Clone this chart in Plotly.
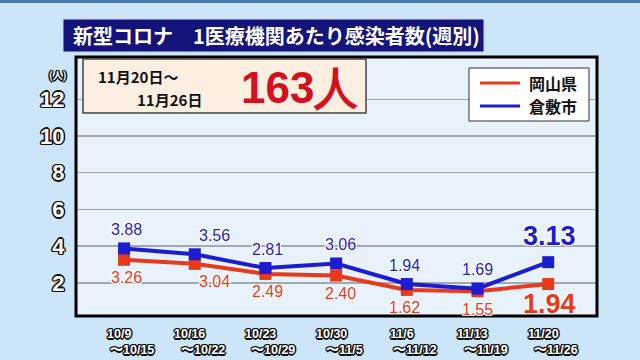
import plotly.graph_objects as go

# ---- data ----
weeks_start = ["10/9", "10/16", "10/23", "10/30", "11/6", "11/13", "11/20"]
weeks_end = ["〜10/15", "〜10/22", "〜10/29", "〜11/5", "〜11/12", "〜11/19", "〜11/26"]
okayama = [3.26, 3.04, 2.49, 2.40, 1.62, 1.55, 1.94]
kurashiki = [3.88, 3.56, 2.81, 3.06, 1.94, 1.69, 3.13]
y_ticks = [2, 4, 6, 8, 10, 12]
series_names = ["岡山県", "倉敷市"]
title_text = "新型コロナ　1医療機関あたり感染者数(週別)"
period_text = ["11月20日〜", "11月26日"]
headline_text = "163人"

# ---- style ----
W, H = 640, 360
L, R, T, B = 76, 597, 57, 316
RED = "#e8391b"
BLUE = "#1c1cd0"
FONT = "Liberation Sans"
CJK = "Noto Sans CJK JP"

def px(x):
    return (x - L) / (R - L)

def py(y):
    return (B - y) / (B - T)

white_halo = "1px 1px 0 #fff, -1px -1px 0 #fff, 1px -1px 0 #fff, -1px 1px 0 #fff, 0 1px 0 #fff, 0 -1px 0 #fff, 1px 0 0 #fff, -1px 0 0 #fff"
black_halo = "1px 1px 0 #111, -1px -1px 0 #111, 1px -1px 0 #111, -1px 1px 0 #111, 0 1.5px 0 #111, 0 -1.5px 0 #111, 1.5px 0 0 #111, -1.5px 0 0 #111"

xs = list(range(len(weeks_start)))

fig = go.Figure()
fig.add_trace(go.Scatter(x=xs, y=okayama, mode="lines+markers", name=series_names[0],
                         line=dict(color=RED, width=4),
                         marker=dict(symbol="square", size=12, color=RED),
                         showlegend=False, hoverinfo="skip"))
fig.add_trace(go.Scatter(x=xs, y=kurashiki, mode="lines+markers", name=series_names[1],
                         line=dict(color=BLUE, width=4),
                         marker=dict(symbol="square", size=12, color=BLUE),
                         showlegend=False, hoverinfo="skip"))

annotations = []
# value labels
label_xshift = [2, 20, 2, 4, -2, 0, 1]
for i in xs:
    last = i == len(xs) - 1
    annotations.append(dict(x=i, y=kurashiki[i], xref="x", yref="y",
                            xanchor="center", yanchor="middle",
                            text=f"{kurashiki[i]:.2f}", showarrow=False,
                            xshift=label_xshift[i], yshift=26 if last else 19,
                            font=dict(family=FONT, size=27 if last else 16, color=BLUE,
                                      weight="bold" if last else "normal", shadow=white_halo)))
    annotations.append(dict(x=i, y=okayama[i], xref="x", yref="y",
                            xanchor="center", yanchor="middle",
                            text=f"{okayama[i]:.2f}", showarrow=False,
                            xshift=label_xshift[i], yshift=-20 if last else -18,
                            font=dict(family=FONT, size=27 if last else 16, color=RED,
                                      weight="bold" if last else "normal", shadow=white_halo)))

# x category labels (two lines, drawn separately for tight spacing)
for i in xs:
    annotations.append(dict(x=i, y=0, xref="x", yref="paper", xanchor="center", yanchor="middle",
                            text=weeks_start[i], showarrow=False, xshift=-5, yshift=-18,
                            borderpad=0,
                            font=dict(family=FONT, size=12.5, color="#ffffff", weight="bold",
                                      shadow=black_halo)))
    annotations.append(dict(x=i, y=0, xref="x", yref="paper", xanchor="center", yanchor="middle",
                            text=weeks_end[i], showarrow=False, xshift=8, yshift=-34,
                            borderpad=0,
                            font=dict(family=FONT, size=12.5, color="#ffffff", weight="bold",
                                      shadow=black_halo)))

# unit label
annotations.append(dict(x=px(58), y=py(74), xref="paper", yref="paper", text="(人)",
                        xanchor="center", yanchor="middle",
                        showarrow=False, font=dict(family=CJK, size=10, color="#fff",
                                                   weight="bold", shadow=black_halo)))
# title
annotations.append(dict(x=px(276), y=py(36), xref="paper", yref="paper", text=title_text,
                        xanchor="center", yanchor="middle",
                        showarrow=False, font=dict(family=CJK, size=20, color="#ffffff",
                                                   weight="bold")))
# info box texts
annotations.append(dict(x=px(96), y=py(77), xref="paper", yref="paper", xanchor="left",
                        yanchor="middle", text=period_text[0], showarrow=False,
                        font=dict(family=CJK, size=15, color="#111", weight="bold")))
annotations.append(dict(x=px(204), y=py(99), xref="paper", yref="paper", xanchor="right",
                        yanchor="middle", text=period_text[1], showarrow=False,
                        font=dict(family=CJK, size=15, color="#111", weight="bold")))
annotations.append(dict(x=px(299), y=py(87), xref="paper", yref="paper",
                        xanchor="center", yanchor="middle",
                        text=headline_text, showarrow=False,
                        font=dict(family=FONT, size=44, color="#d3101c", weight="bold")))
# legend texts
annotations.append(dict(x=px(527), y=py(83), xref="paper", yref="paper", xanchor="left",
                        yanchor="middle", text=series_names[0], showarrow=False,
                        font=dict(family=CJK, size=16, color="#111", weight="bold")))
annotations.append(dict(x=px(527), y=py(106), xref="paper", yref="paper", xanchor="left",
                        yanchor="middle", text=series_names[1], showarrow=False,
                        font=dict(family=CJK, size=16, color="#111", weight="bold")))

shapes = [
    # top dark strip
    dict(type="rect", xref="paper", yref="paper", x0=px(0), x1=px(640), y0=py(0), y1=py(3),
         fillcolor="#4a78a8", line=dict(width=0), layer="below"),
    # title box
    dict(type="rect", xref="paper", yref="paper", x0=px(63), x1=px(484), y0=py(19), y1=py(52),
         fillcolor="#14147a", line=dict(color="#c8d8f0", width=1)),
    # plot frame
    dict(type="rect", xref="paper", yref="paper", x0=0, x1=1, y0=0, y1=1,
         line=dict(color="#000", width=3), layer="above"),
    # info box
    dict(type="rect", xref="paper", yref="paper", x0=px(83), x1=px(366), y0=py(59), y1=py(113),
         fillcolor="#fcefe2", line=dict(color="#444", width=1.5)),
    # legend box
    dict(type="rect", xref="paper", yref="paper", x0=px(469), x1=px(589), y0=py(68), y1=py(121),
         fillcolor="#ffffff", line=dict(color="#333", width=1)),
    dict(type="line", xref="paper", yref="paper", x0=px(480), x1=px(520), y0=py(83), y1=py(83),
         line=dict(color=RED, width=3)),
    dict(type="line", xref="paper", yref="paper", x0=px(480), x1=px(520), y0=py(106), y1=py(106),
         line=dict(color=BLUE, width=3)),
]

fig.update_layout(
    width=W, height=H,
    margin=dict(l=L, r=W - R, t=T, b=H - B, pad=0),
    paper_bgcolor="#cde5f8",
    plot_bgcolor="#e7f2fc",
    showlegend=False,
    xaxis=dict(range=[-0.68, 6.69], showticklabels=False, showgrid=False, zeroline=False,
               fixedrange=True),
    yaxis=dict(range=[0.2, 14.3], tickvals=y_ticks, showgrid=True, gridcolor="#a2a8b0",
               gridwidth=1.5, zeroline=False, ticks="outside", ticklen=6,
               tickcolor="rgba(0,0,0,0)", fixedrange=True,
               tickfont=dict(family=FONT, size=22, color="#ffffff", weight="bold",
                             shadow=black_halo)),
    annotations=annotations,
    shapes=shapes,
)

fig.write_html("out.html", config={"displayModeBar": False, "staticPlot": True},
               post_script="document.body.style.margin='0';document.body.style.overflow='hidden';")
